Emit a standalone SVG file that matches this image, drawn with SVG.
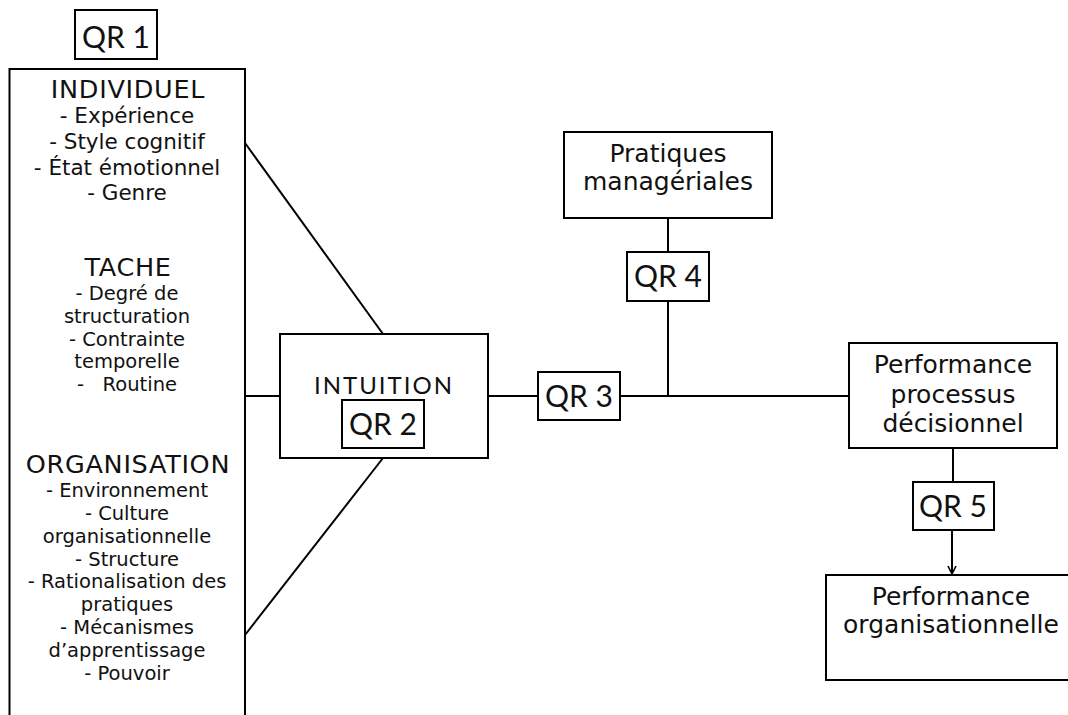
<svg xmlns="http://www.w3.org/2000/svg" width="1068" height="715" viewBox="0 0 1068 715">
<defs>
<style>
.box{fill:#fff;stroke:#000;stroke-width:2}
.ln{fill:none;stroke:#000;stroke-width:2}
.v{font-family:"DejaVu Sans",Verdana,sans-serif;fill:#111;text-anchor:middle}
.g{font-family:Lato,"Open Sans",sans-serif;fill:#111;text-anchor:middle}
.h{font-size:25.5px;letter-spacing:0.7px}
.i1{font-size:21.5px}
.i2{font-size:19.5px}
.m{font-size:25px}
.qr{font-size:30px}
</style>
<marker id="arr" markerWidth="10" markerHeight="10" refX="9" refY="5" orient="auto" markerUnits="userSpaceOnUse">
<path d="M1,1 L9,5 L1,9" fill="none" stroke="#000" stroke-width="1.6"/>
</marker>
</defs>
<rect width="1068" height="715" fill="#fff"/>
<g id="connectors">
<line class="ln" x1="245" y1="143" x2="383" y2="334"/>
<line class="ln" x1="245" y1="396" x2="280" y2="396"/>
<line class="ln" x1="245" y1="635" x2="383" y2="458"/>
<line class="ln" x1="488" y1="396" x2="538" y2="396"/>
<line class="ln" x1="620" y1="396" x2="849" y2="396"/>
<line class="ln" x1="668" y1="218" x2="668" y2="252"/>
<line class="ln" x1="668" y1="301" x2="668" y2="396"/>
<line class="ln" x1="953" y1="448" x2="953" y2="482"/>
<line class="ln" x1="952" y1="530" x2="952" y2="574" marker-end="url(#arr)"/>
</g>
<g id="qr1">
<rect class="box" x="75" y="10" width="82" height="49"/>
<text class="g qr" x="116" y="48">QR 1</text>
</g>
<g id="facteurs">
<rect class="box" x="9.5" y="69" width="235.5" height="700"/>
<text class="v h" x="128" y="98">INDIVIDUEL</text>
<text class="v i1" x="127" y="123">- Expérience</text>
<text class="v i1" x="127" y="149">- Style cognitif</text>
<text class="v i1" x="127" y="175">- État émotionnel</text>
<text class="v i1" x="127" y="200">- Genre</text>
<text class="v h" x="128" y="276">TACHE</text>
<text class="v i2" x="127" y="300">- Degré de</text>
<text class="v i2" x="127" y="323">structuration</text>
<text class="v i2" x="127" y="346">- Contrainte</text>
<text class="v i2" x="127" y="368">temporelle</text>
<text class="v i2" x="127" y="391" style="white-space:pre">-   Routine</text>
<text class="v h" x="128" y="473">ORGANISATION</text>
<text class="v i2" x="127" y="497">- Environnement</text>
<text class="v i2" x="127" y="520">- Culture</text>
<text class="v i2" x="127" y="543">organisationnelle</text>
<text class="v i2" x="127" y="566">- Structure</text>
<text class="v i2" x="127" y="588">- Rationalisation des</text>
<text class="v i2" x="127" y="611">pratiques</text>
<text class="v i2" x="127" y="634">- Mécanismes</text>
<text class="v i2" x="127" y="657">d’apprentissage</text>
<text class="v i2" x="127" y="680">- Pouvoir</text>
</g>
<g id="intuition">
<rect class="box" x="280" y="334" width="208" height="124"/>
<text class="g" x="384" y="394" font-size="24" letter-spacing="2">INTUITION</text>
<rect class="box" x="342" y="400" width="82" height="48"/>
<text class="g qr" x="383" y="435">QR 2</text>
</g>
<g id="qr3">
<rect class="box" x="538" y="372" width="82" height="48"/>
<text class="g qr" x="579" y="407">QR 3</text>
</g>
<g id="pratiques">
<rect class="box" x="564" y="132" width="208" height="86"/>
<text class="v m" x="668" y="162">Pratiques</text>
<text class="v m" x="668" y="190">managériales</text>
</g>
<g id="qr4">
<rect class="box" x="627" y="252" width="82" height="49"/>
<text class="g qr" x="668" y="287">QR 4</text>
</g>
<g id="perf-processus">
<rect class="box" x="849" y="343" width="208" height="105"/>
<text class="v m" x="953" y="373">Performance</text>
<text class="v m" x="953" y="403">processus</text>
<text class="v m" x="953" y="432">décisionnel</text>
</g>
<g id="qr5">
<rect class="box" x="913" y="482" width="81" height="48"/>
<text class="g qr" x="953" y="517">QR 5</text>
</g>
<g id="perf-org">
<rect class="box" x="826" y="575" width="260" height="105"/>
<text class="v m" x="951" y="605">Performance</text>
<text class="v m" x="951" y="633">organisationnelle</text>
</g>
</svg>
